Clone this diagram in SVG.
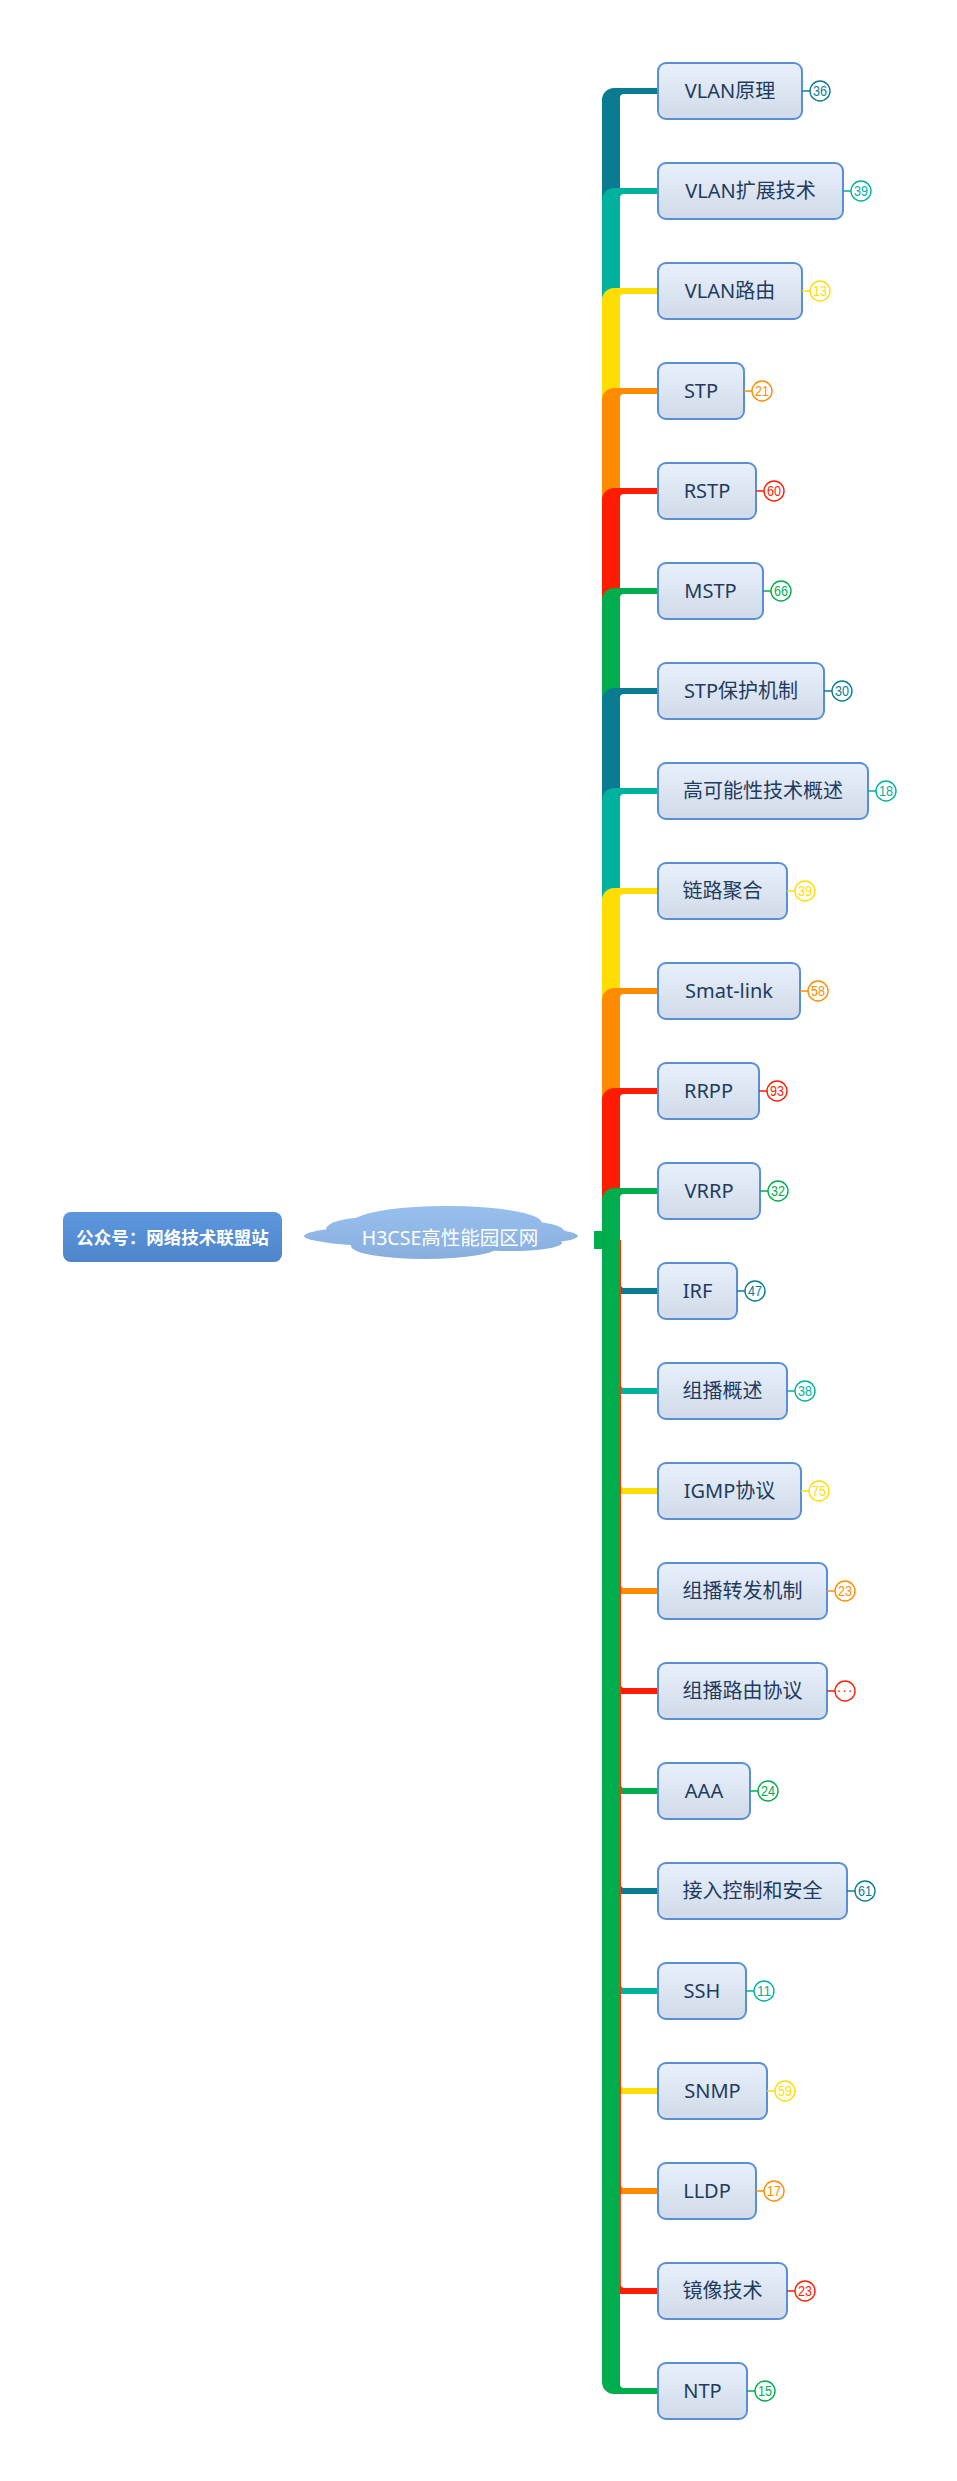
<svg xmlns="http://www.w3.org/2000/svg" width="957" height="2481" viewBox="0 0 957 2481">
<defs>
<linearGradient id="gBox" x1="0" y1="0" x2="0" y2="1"><stop offset="0" stop-color="#E8F0FC"/><stop offset="1" stop-color="#D0DAE8"/></linearGradient>
<linearGradient id="gRoot" x1="0" y1="0" x2="0" y2="1"><stop offset="0" stop-color="#5C97DE"/><stop offset="1" stop-color="#4E85CA"/></linearGradient>
<linearGradient id="gCloud" gradientUnits="userSpaceOnUse" x1="0" y1="1206" x2="0" y2="1259"><stop offset="0" stop-color="#98C0EE"/><stop offset="1" stop-color="#88AEDE"/></linearGradient>
</defs>
<style>
.box{fill:url(#gBox);stroke:#5B8FD5;stroke-width:2}
.lbl{font-family:"Noto Sans","Noto Sans CJK SC",sans-serif;font-size:20px;fill:#1F3B5E;text-anchor:middle}
.bdg{fill:#FFFFFF;stroke-width:1.4}
.bt{font-family:"Liberation Sans","Noto Sans CJK SC",sans-serif;font-size:15px;text-anchor:middle}
.bl{stroke-width:1.5}
.c1{fill:#097C92}.c2{fill:#00B19D}.c3{fill:#FFDD00}.c4{fill:#FF8C00}.c5{fill:#FF1C00}.c6{fill:#00AC4B}
.s1{stroke:#097C92}.s2{stroke:#00B19D}.s3{stroke:#FFDD00}.s4{stroke:#FF8C00}.s5{stroke:#FF1C00}.s6{stroke:#00AC4B}
</style>
<rect x="0" y="0" width="957" height="2481" fill="#FFFFFF"/>

<g id="connectors">
<path class="c1" d="M602,1240 V100 A12,12 0 0 1 614,88 H658 V94 H624 A4,4 0 0 0 620,98 V1240 Z"/>
<path class="c2" d="M602,1240 V200 A12,12 0 0 1 614,188 H658 V194 H624 A4,4 0 0 0 620,198 V1240 Z"/>
<path class="c3" d="M602,1240 V300 A12,12 0 0 1 614,288 H658 V294 H624 A4,4 0 0 0 620,298 V1240 Z"/>
<path class="c4" d="M602,1240 V400 A12,12 0 0 1 614,388 H658 V394 H624 A4,4 0 0 0 620,398 V1240 Z"/>
<path class="c5" d="M602,1240 V500 A12,12 0 0 1 614,488 H658 V494 H624 A4,4 0 0 0 620,498 V1240 Z"/>
<path class="c6" d="M602,1240 V600 A12,12 0 0 1 614,588 H658 V594 H624 A4,4 0 0 0 620,598 V1240 Z"/>
<path class="c1" d="M602,1240 V700 A12,12 0 0 1 614,688 H658 V694 H624 A4,4 0 0 0 620,698 V1240 Z"/>
<path class="c2" d="M602,1240 V800 A12,12 0 0 1 614,788 H658 V794 H624 A4,4 0 0 0 620,798 V1240 Z"/>
<path class="c3" d="M602,1240 V900 A12,12 0 0 1 614,888 H658 V894 H624 A4,4 0 0 0 620,898 V1240 Z"/>
<path class="c4" d="M602,1240 V1000 A12,12 0 0 1 614,988 H658 V994 H624 A4,4 0 0 0 620,998 V1240 Z"/>
<path class="c5" d="M602,1240 V1100 A12,12 0 0 1 614,1088 H658 V1094 H624 A4,4 0 0 0 620,1098 V1240 Z"/>
<path class="c6" d="M602,1240 V1200 A12,12 0 0 1 614,1188 H658 V1194 H624 A4,4 0 0 0 620,1198 V1240 Z"/>
<path class="c1" d="M602,1240 V1282 A12,12 0 0 0 614,1294 H658 V1288 H624 A4,4 0 0 1 620.8,1284 V1240 Z"/>
<path class="c2" d="M602,1240 V1382 A12,12 0 0 0 614,1394 H658 V1388 H624 A4,4 0 0 1 620.8,1384 V1240 Z"/>
<path class="c3" d="M602,1240 V1482 A12,12 0 0 0 614,1494 H658 V1488 H624 A4,4 0 0 1 620.8,1484 V1240 Z"/>
<path class="c4" d="M602,1240 V1582 A12,12 0 0 0 614,1594 H658 V1588 H624 A4,4 0 0 1 620.8,1584 V1240 Z"/>
<path class="c5" d="M602,1240 V1682 A12,12 0 0 0 614,1694 H658 V1688 H624 A4,4 0 0 1 620.8,1684 V1240 Z"/>
<path class="c6" d="M602,1240 V1782 A12,12 0 0 0 614,1794 H658 V1788 H624 A4,4 0 0 1 620.8,1784 V1240 Z"/>
<path class="c1" d="M602,1240 V1882 A12,12 0 0 0 614,1894 H658 V1888 H624 A4,4 0 0 1 620.8,1884 V1240 Z"/>
<path class="c2" d="M602,1240 V1982 A12,12 0 0 0 614,1994 H658 V1988 H624 A4,4 0 0 1 620.8,1984 V1240 Z"/>
<path class="c3" d="M602,1240 V2082 A12,12 0 0 0 614,2094 H658 V2088 H624 A4,4 0 0 1 620.8,2084 V1240 Z"/>
<path class="c4" d="M602,1240 V2182 A12,12 0 0 0 614,2194 H658 V2188 H624 A4,4 0 0 1 620.8,2184 V1240 Z"/>
<path class="c5" d="M602,1240 V2282 A12,12 0 0 0 614,2294 H658 V2288 H624 A4,4 0 0 1 620.8,2284 V1240 Z"/>
<path class="c6" d="M602,1240 V2382 A12,12 0 0 0 614,2394 H658 V2388 H624 A4,4 0 0 1 620,2384 V1240 Z"/>
<rect class="c6" x="594" y="1231" width="8.5" height="18"/>
</g>

<g id="root">
<rect x="63" y="1212" width="219" height="50" rx="8" fill="url(#gRoot)"/>
<text x="172.5" y="1243.5" font-family="Noto Sans CJK SC, sans-serif" font-size="17.5" font-weight="bold" fill="#FFFFFF" text-anchor="middle">公众号：网络技术联盟站</text>
</g>

<g id="central">
<g fill="url(#gCloud)">
<ellipse cx="441" cy="1236" rx="137" ry="12"/>
<ellipse cx="447" cy="1223" rx="95" ry="17"/>
<ellipse cx="372" cy="1229" rx="46" ry="12"/>
<ellipse cx="520" cy="1231" rx="44" ry="10"/>
<ellipse cx="425" cy="1246" rx="74" ry="13"/>
<ellipse cx="510" cy="1243" rx="52" ry="8"/>
</g>
<text x="450" y="1245" font-family="Noto Sans, Noto Sans CJK SC, sans-serif" font-size="19.5" fill="#FFFFFF" text-anchor="middle">H3CSE高性能园区网</text>
</g>

<g id="n1"><rect class="box" x="658" y="63" width="144" height="56" rx="8"/><text class="lbl" x="730" y="98">VLAN原理</text><line class="bl s1" x1="802" y1="91" x2="810" y2="91"/><circle class="bdg s1" cx="820" cy="91" r="10"/><text class="bt c1" x="820" y="96.4" textLength="14" lengthAdjust="spacingAndGlyphs">36</text></g>
<g id="n2"><rect class="box" x="658" y="163" width="185" height="56" rx="8"/><text class="lbl" x="750.5" y="198">VLAN扩展技术</text><line class="bl s2" x1="843" y1="191" x2="851" y2="191"/><circle class="bdg s2" cx="861" cy="191" r="10"/><text class="bt c2" x="861" y="196.4" textLength="14" lengthAdjust="spacingAndGlyphs">39</text></g>
<g id="n3"><rect class="box" x="658" y="263" width="144" height="56" rx="8"/><text class="lbl" x="730" y="298">VLAN路由</text><line class="bl s3" x1="802" y1="291" x2="810" y2="291"/><circle class="bdg s3" cx="820" cy="291" r="10"/><text class="bt c3" x="820" y="296.4" textLength="14" lengthAdjust="spacingAndGlyphs">13</text></g>
<g id="n4"><rect class="box" x="658" y="363" width="86" height="56" rx="8"/><text class="lbl" x="701" y="398">STP</text><line class="bl s4" x1="744" y1="391" x2="752" y2="391"/><circle class="bdg s4" cx="762" cy="391" r="10"/><text class="bt c4" x="762" y="396.4" textLength="14" lengthAdjust="spacingAndGlyphs">21</text></g>
<g id="n5"><rect class="box" x="658" y="463" width="98" height="56" rx="8"/><text class="lbl" x="707" y="498">RSTP</text><line class="bl s5" x1="756" y1="491" x2="764" y2="491"/><circle class="bdg s5" cx="774" cy="491" r="10"/><text class="bt c5" x="774" y="496.4" textLength="14" lengthAdjust="spacingAndGlyphs">60</text></g>
<g id="n6"><rect class="box" x="658" y="563" width="105" height="56" rx="8"/><text class="lbl" x="710.5" y="598">MSTP</text><line class="bl s6" x1="763" y1="591" x2="771" y2="591"/><circle class="bdg s6" cx="781" cy="591" r="10"/><text class="bt c6" x="781" y="596.4" textLength="14" lengthAdjust="spacingAndGlyphs">66</text></g>
<g id="n7"><rect class="box" x="658" y="663" width="166" height="56" rx="8"/><text class="lbl" x="741" y="698">STP保护机制</text><line class="bl s1" x1="824" y1="691" x2="832" y2="691"/><circle class="bdg s1" cx="842" cy="691" r="10"/><text class="bt c1" x="842" y="696.4" textLength="14" lengthAdjust="spacingAndGlyphs">30</text></g>
<g id="n8"><rect class="box" x="658" y="763" width="210" height="56" rx="8"/><text class="lbl" x="763" y="798">高可能性技术概述</text><line class="bl s2" x1="868" y1="791" x2="876" y2="791"/><circle class="bdg s2" cx="886" cy="791" r="10"/><text class="bt c2" x="886" y="796.4" textLength="14" lengthAdjust="spacingAndGlyphs">18</text></g>
<g id="n9"><rect class="box" x="658" y="863" width="129" height="56" rx="8"/><text class="lbl" x="722.5" y="898">链路聚合</text><line class="bl s3" x1="787" y1="891" x2="795" y2="891"/><circle class="bdg s3" cx="805" cy="891" r="10"/><text class="bt c3" x="805" y="896.4" textLength="14" lengthAdjust="spacingAndGlyphs">39</text></g>
<g id="n10"><rect class="box" x="658" y="963" width="142" height="56" rx="8"/><text class="lbl" x="729" y="998">Smat-link</text><line class="bl s4" x1="800" y1="991" x2="808" y2="991"/><circle class="bdg s4" cx="818" cy="991" r="10"/><text class="bt c4" x="818" y="996.4" textLength="14" lengthAdjust="spacingAndGlyphs">58</text></g>
<g id="n11"><rect class="box" x="658" y="1063" width="101" height="56" rx="8"/><text class="lbl" x="708.5" y="1098">RRPP</text><line class="bl s5" x1="759" y1="1091" x2="767" y2="1091"/><circle class="bdg s5" cx="777" cy="1091" r="10"/><text class="bt c5" x="777" y="1096.4" textLength="14" lengthAdjust="spacingAndGlyphs">93</text></g>
<g id="n12"><rect class="box" x="658" y="1163" width="102" height="56" rx="8"/><text class="lbl" x="709" y="1198">VRRP</text><line class="bl s6" x1="760" y1="1191" x2="768" y2="1191"/><circle class="bdg s6" cx="778" cy="1191" r="10"/><text class="bt c6" x="778" y="1196.4" textLength="14" lengthAdjust="spacingAndGlyphs">32</text></g>
<g id="n13"><rect class="box" x="658" y="1263" width="79" height="56" rx="8"/><text class="lbl" x="697.5" y="1298">IRF</text><line class="bl s1" x1="737" y1="1291" x2="745" y2="1291"/><circle class="bdg s1" cx="755" cy="1291" r="10"/><text class="bt c1" x="755" y="1296.4" textLength="14" lengthAdjust="spacingAndGlyphs">47</text></g>
<g id="n14"><rect class="box" x="658" y="1363" width="129" height="56" rx="8"/><text class="lbl" x="722.5" y="1398">组播概述</text><line class="bl s2" x1="787" y1="1391" x2="795" y2="1391"/><circle class="bdg s2" cx="805" cy="1391" r="10"/><text class="bt c2" x="805" y="1396.4" textLength="14" lengthAdjust="spacingAndGlyphs">38</text></g>
<g id="n15"><rect class="box" x="658" y="1463" width="143" height="56" rx="8"/><text class="lbl" x="729.5" y="1498">IGMP协议</text><line class="bl s3" x1="801" y1="1491" x2="809" y2="1491"/><circle class="bdg s3" cx="819" cy="1491" r="10"/><text class="bt c3" x="819" y="1496.4" textLength="14" lengthAdjust="spacingAndGlyphs">75</text></g>
<g id="n16"><rect class="box" x="658" y="1563" width="169" height="56" rx="8"/><text class="lbl" x="742.5" y="1598">组播转发机制</text><line class="bl s4" x1="827" y1="1591" x2="835" y2="1591"/><circle class="bdg s4" cx="845" cy="1591" r="10"/><text class="bt c4" x="845" y="1596.4" textLength="14" lengthAdjust="spacingAndGlyphs">23</text></g>
<g id="n17"><rect class="box" x="658" y="1663" width="169" height="56" rx="8"/><text class="lbl" x="742.5" y="1698">组播路由协议</text><line class="bl s5" x1="827" y1="1691" x2="835" y2="1691"/><circle class="bdg s5" cx="845" cy="1691" r="10"/><text class="bt c5" x="845" y="1694.5" font-size="10px" letter-spacing="0.6px">···</text></g>
<g id="n18"><rect class="box" x="658" y="1763" width="92" height="56" rx="8"/><text class="lbl" x="704" y="1798">AAA</text><line class="bl s6" x1="750" y1="1791" x2="758" y2="1791"/><circle class="bdg s6" cx="768" cy="1791" r="10"/><text class="bt c6" x="768" y="1796.4" textLength="14" lengthAdjust="spacingAndGlyphs">24</text></g>
<g id="n19"><rect class="box" x="658" y="1863" width="189" height="56" rx="8"/><text class="lbl" x="752.5" y="1898">接入控制和安全</text><line class="bl s1" x1="847" y1="1891" x2="855" y2="1891"/><circle class="bdg s1" cx="865" cy="1891" r="10"/><text class="bt c1" x="865" y="1896.4" textLength="14" lengthAdjust="spacingAndGlyphs">61</text></g>
<g id="n20"><rect class="box" x="658" y="1963" width="88" height="56" rx="8"/><text class="lbl" x="702" y="1998">SSH</text><line class="bl s2" x1="746" y1="1991" x2="754" y2="1991"/><circle class="bdg s2" cx="764" cy="1991" r="10"/><text class="bt c2" x="764" y="1996.4" textLength="14" lengthAdjust="spacingAndGlyphs">11</text></g>
<g id="n21"><rect class="box" x="658" y="2063" width="109" height="56" rx="8"/><text class="lbl" x="712.5" y="2098">SNMP</text><line class="bl s3" x1="767" y1="2091" x2="775" y2="2091"/><circle class="bdg s3" cx="785" cy="2091" r="10"/><text class="bt c3" x="785" y="2096.4" textLength="14" lengthAdjust="spacingAndGlyphs">59</text></g>
<g id="n22"><rect class="box" x="658" y="2163" width="98" height="56" rx="8"/><text class="lbl" x="707" y="2198">LLDP</text><line class="bl s4" x1="756" y1="2191" x2="764" y2="2191"/><circle class="bdg s4" cx="774" cy="2191" r="10"/><text class="bt c4" x="774" y="2196.4" textLength="14" lengthAdjust="spacingAndGlyphs">17</text></g>
<g id="n23"><rect class="box" x="658" y="2263" width="129" height="56" rx="8"/><text class="lbl" x="722.5" y="2298">镜像技术</text><line class="bl s5" x1="787" y1="2291" x2="795" y2="2291"/><circle class="bdg s5" cx="805" cy="2291" r="10"/><text class="bt c5" x="805" y="2296.4" textLength="14" lengthAdjust="spacingAndGlyphs">23</text></g>
<g id="n24"><rect class="box" x="658" y="2363" width="89" height="56" rx="8"/><text class="lbl" x="702.5" y="2398">NTP</text><line class="bl s6" x1="747" y1="2391" x2="755" y2="2391"/><circle class="bdg s6" cx="765" cy="2391" r="10"/><text class="bt c6" x="765" y="2396.4" textLength="14" lengthAdjust="spacingAndGlyphs">15</text></g>
</svg>
